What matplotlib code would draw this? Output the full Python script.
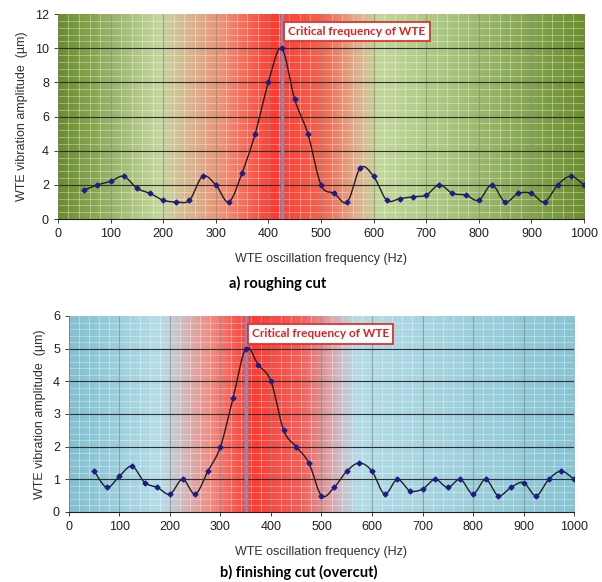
import numpy as np
import matplotlib
matplotlib.use('Agg')
import matplotlib.pyplot as plt
from matplotlib.colors import LinearSegmentedColormap

# Data
freq = np.arange(50, 1001, 25)

amp_rough = [1.7, 2.0, 2.2, 2.5, 1.8, 1.5, 1.1, 1.0, 1.1, 2.5, 2.0, 1.0, 2.7, 5.0,
             8.0, 10.0, 7.0, 5.0, 2.0, 1.5, 1.0, 3.0, 2.5, 1.1, 1.2, 1.3, 1.4, 2.0,
             1.5, 1.4, 1.1, 2.0, 1.0, 1.5, 1.5, 1.0, 2.0, 2.5, 2.0]

amp_finish = [1.25, 0.75, 1.1, 1.4, 0.9, 0.75, 0.55, 1.0, 0.55, 1.25, 2.0, 3.5, 5.0,
              4.5, 4.0, 2.5, 2.0, 1.5, 0.5, 0.75, 1.25, 1.5, 1.25, 0.55, 1.0, 0.65,
              0.7, 1.0, 0.75, 1.0, 0.55, 1.0, 0.5, 0.75, 0.9, 0.5, 1.0, 1.25, 1.0]

crit_rough = 425
crit_finish = 350

plt.rcParams['font.family'] = ['Liberation Sans', 'DejaVu Sans']

# background colour stops (position along 0..1000 Hz, colour)
green_stops = [(0.0, '#6a8c2c'), (0.19, '#c4d89e'), (0.25, '#d9b48e'), (0.32, '#f08a72'),
               (0.41, '#ff3a30'), (0.50, '#f26450'), (0.57, '#deb28e'), (0.61, '#c2d89c'),
               (0.75, '#a8c47c'), (1.0, '#6c8e2e')]
blue_stops = [(0.0, '#80c0d0'), (0.18, '#b6dde7'), (0.21, '#c8c6cc'), (0.28, '#f08a80'),
              (0.36, '#ff3a30'), (0.46, '#f2605a'), (0.53, '#d2b4bc'), (0.57, '#b4dce6'),
              (0.75, '#a2d2de'), (1.0, '#88c4d2')]


def smooth(x, y, n=20):
    # Catmull-Rom curve through the points (Excel style smoothed line)
    p = np.column_stack([x, y]).astype(float)
    p = np.vstack([p[0], p, p[-1]])
    out = []
    t = np.linspace(0, 1, n, endpoint=False)[:, None]
    for i in range(1, len(p) - 2):
        p0, p1, p2, p3 = p[i - 1], p[i], p[i + 1], p[i + 2]
        seg = 0.5 * ((2 * p1) + (-p0 + p2) * t + (2 * p0 - 5 * p1 + 4 * p2 - p3) * t ** 2
                     + (-p0 + 3 * p1 - 3 * p2 + p3) * t ** 3)
        out.append(seg)
    out.append(p[-2][None, :])
    out = np.vstack(out)
    return out[:, 0], out[:, 1]


def panel(ax, y, ymax, ystep, stops, crit, box_x, box_y):
    cmap = LinearSegmentedColormap.from_list('bg', stops)
    ax.imshow(np.linspace(0, 1, 500)[None, :], cmap=cmap, aspect='auto',
              extent=[0, 1000, 0, ymax], zorder=0)
    ax.set_xlim(0, 1000)
    ax.set_ylim(0, ymax)
    # minor white grid
    for xv in np.arange(20, 1000, 20):
        ax.axvline(xv, color='white', lw=0.6, alpha=0.4, zorder=1)
    for yv in np.arange(0, ymax, ystep / 5):
        ax.axhline(yv, color='white', lw=0.6, alpha=0.4, zorder=1)
    for xv in range(100, 1000, 100):
        ax.axvline(xv, color='#6a7a70', lw=0.8, alpha=0.6, zorder=2)
    for yv in np.arange(ystep, ymax, ystep):
        ax.axhline(yv, color='#303030', lw=0.8, zorder=2)
    ax.axvline(crit, color='#8a8cb8', lw=2.5, alpha=0.9, zorder=3)
    sx, sy = smooth(freq, y)
    ax.plot(sx, sy, color='#202020', lw=1.0, zorder=4)
    ax.plot(freq, y, ls='none', marker='D', ms=2.5, color='#1c1c8c', zorder=5)
    ax.text(box_x, box_y, 'Critical frequency of WTE', color='#e02020', fontsize=8.6,
            fontweight='bold', family=['Lato', 'DejaVu Sans'], va='top', ha='left', zorder=6,
            bbox=dict(boxstyle='square,pad=0.35', fc='white', ec='#e03030', lw=1.3))
    ax.set_xticks(range(0, 1001, 100))
    ax.set_yticks(np.arange(0, ymax + 0.01, ystep))
    ax.tick_params(labelsize=9, colors='#202020', length=3, width=0.6)
    for s in ['top', 'right']:
        ax.spines[s].set_visible(False)
    ax.spines['left'].set_color('#808080')
    ax.spines['left'].set_linewidth(0.6)
    ax.spines['bottom'].set_color('#202020')
    ax.spines['bottom'].set_linewidth(0.8)
    ax.set_xlabel('WTE oscillation frequency (Hz)', fontsize=9, color='#303030', labelpad=9)
    ax.set_ylabel('WTE vibration amplitude  (\u00b5m)', fontsize=9, color='#303030', labelpad=5)


fig = plt.figure(figsize=(6.02, 5.82), dpi=100)
ax1 = fig.add_axes([0.0963, 0.6237, 0.8738, 0.3522])
ax2 = fig.add_axes([0.1146, 0.1203, 0.8389, 0.3368])

panel(ax1, amp_rough, 12, 2, green_stops, crit_rough, 438, 11.3)
panel(ax2, amp_finish, 6, 1, blue_stops, crit_finish, 362, 5.62)

fig.text(0.462, 0.513, 'a) roughing cut', fontsize=10.5, fontweight='bold',
         family=['Lato', 'DejaVu Sans'], ha='center', va='center', color='black')
fig.text(0.497, 0.017, 'b) finishing cut (overcut)', fontsize=10.5, fontweight='bold',
         family=['Lato', 'DejaVu Sans'], ha='center', va='center', color='black')

fig.savefig('out.png', dpi=100)
